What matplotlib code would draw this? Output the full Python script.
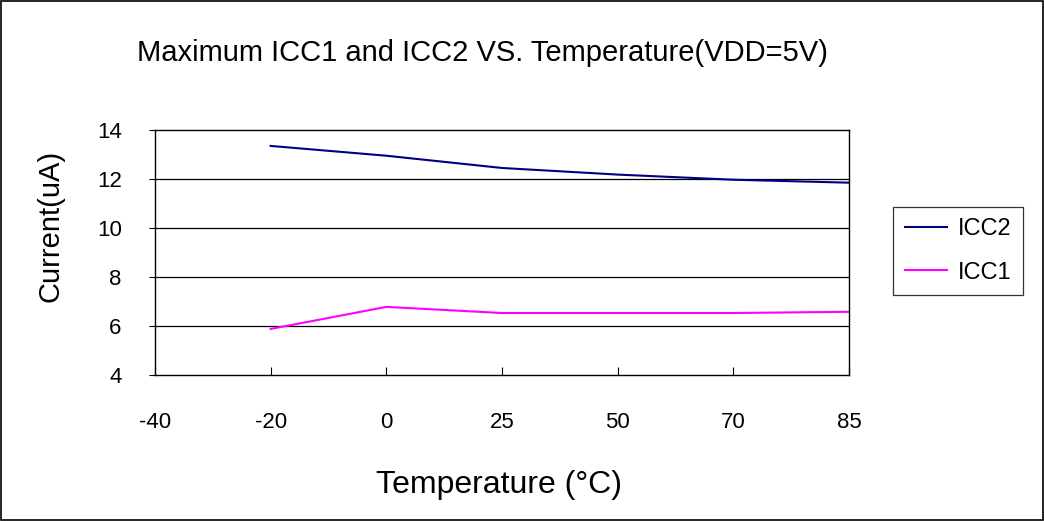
import matplotlib.pyplot as plt
import numpy as np

categories = ['-40', '-20', '0', '25', '50', '70', '85']
icc2 = [np.nan, 13.35, 12.95, 12.45, 12.18, 11.97, 11.85]
icc1 = [np.nan, 5.88, 6.78, 6.53, 6.53, 6.53, 6.58]

plt.rcParams['font.family'] = ['Liberation Sans', 'DejaVu Sans']

fig = plt.figure(figsize=(10.44, 5.21), dpi=100)
ax = fig.add_axes([155 / 1044, 1 - 375 / 521, (849 - 155) / 1044, (375 - 130) / 521])

x = np.arange(len(categories))
ax.plot(x, icc2, color='#000080', lw=1.5, label='ICC2')
ax.plot(x, icc1, color='#FF00FF', lw=1.5, label='ICC1')

ax.set_xlim(0, len(categories) - 1)
ax.set_ylim(4, 14)
ax.set_yticks([4, 6, 8, 10, 12, 14])
ax.set_xticks(x)
ax.set_xticklabels(categories)
for gy in [6, 8, 10, 12]:
    ax.axhline(gy, color='black', lw=0.9, zorder=0)

ax.tick_params(axis='x', direction='in', length=6, pad=27, labelsize=16)
ax.tick_params(axis='y', direction='out', length=4, pad=20, labelsize=16)
for s in ax.spines.values():
    s.set_linewidth(1.0)
    s.set_color('black')

ax.set_xlabel('Temperature (°C)', fontsize=23)
ax.xaxis.set_label_coords(0.496, -0.388)
ax.set_ylabel('Current(uA)', fontsize=21)
ax.yaxis.set_label_coords(-0.130, 0.608)
fig.text(482 / 1044, 1 - 53 / 521, 'Maximum ICC1 and ICC2 VS. Temperature(VDD=5V)',
         fontsize=21, ha='center', va='center')

leg = ax.legend(loc='center left', bbox_to_anchor=(893 / 1044, 1 - 251 / 521),
                bbox_transform=fig.transFigure, fontsize=17, frameon=True,
                fancybox=False, edgecolor='black', handlelength=1.8,
                labelspacing=0.9, borderpad=0.5, handletextpad=0.45,
                borderaxespad=0)
leg.get_frame().set_linewidth(0.9)

fig.patches.append(plt.Rectangle((0.001, 0.001), 0.998, 0.997, transform=fig.transFigure,
                                 fill=False, edgecolor='black', lw=1.2))

plt.savefig('out.png', dpi=100)
